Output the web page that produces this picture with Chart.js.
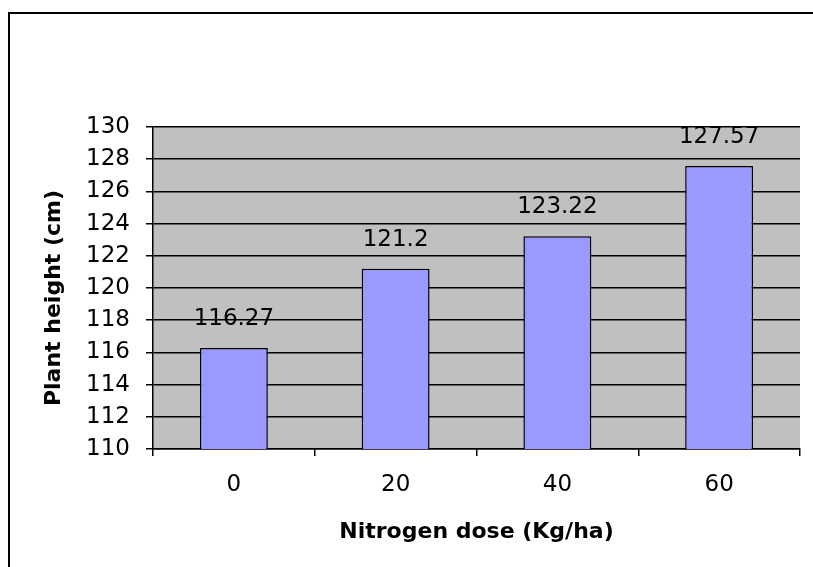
<!DOCTYPE html>
<html>
<head>
<meta charset="utf-8">
<script src="https://cdn.jsdelivr.net/npm/chart.js@4/dist/chart.umd.min.js"></script>
<style>
html,body{margin:0;padding:0;background:#fff;}
#wrap{position:relative;width:813px;height:567px;}
</style>
</head>
<body>
<div id="wrap"><canvas id="c" width="813" height="567"></canvas></div>
<script>
const categories = ['0', '20', '40', '60'];
const plantHeight = [116.27, 121.2, 123.22, 127.57];
const yMin = 110;
const yMax = 130;
const yStep = 2;
const xTitle = 'Nitrogen dose (Kg/ha)';
const yTitle = 'Plant height (cm)';

const FONT = '"DejaVu Sans", sans-serif';

const framePlugin = {
  id: 'frame',
  beforeDraw(chart) {
    const ctx = chart.ctx;
    ctx.save();
    ctx.fillStyle = '#fff';
    ctx.fillRect(0, 0, chart.width, chart.height);
    const a = chart.chartArea;
    ctx.fillStyle = '#C0C0C0';
    ctx.fillRect(a.left, a.top, a.right - a.left, a.bottom - a.top);
    ctx.strokeStyle = '#000';
    ctx.lineWidth = 2;
    ctx.beginPath();
    ctx.moveTo(9, chart.height + 5);
    ctx.lineTo(9, 13);
    ctx.lineTo(chart.width + 5, 13);
    ctx.stroke();
    ctx.restore();
  },
  afterDraw(chart) {
    const ctx = chart.ctx;
    const a = chart.chartArea;
    ctx.save();
    ctx.fillStyle = '#000';
    ctx.font = 'bold 22px ' + FONT;
    ctx.textAlign = 'center';
    ctx.textBaseline = 'middle';
    ctx.fillText(xTitle, (a.left + a.right) / 2, 532);
    ctx.translate(54, 298);
    ctx.rotate(-Math.PI / 2);
    ctx.fillText(yTitle, 0, 0);
    ctx.restore();
  },
  afterDatasetsDraw(chart) {
    const ctx = chart.ctx;
    const meta = chart.getDatasetMeta(0);
    ctx.save();
    ctx.fillStyle = '#000';
    ctx.font = '23px ' + FONT;
    ctx.textAlign = 'center';
    ctx.textBaseline = 'middle';
    meta.data.forEach((bar, i) => {
      ctx.fillText(String(plantHeight[i]), bar.x, bar.y - 29);
    });
    ctx.restore();
  }
};

new Chart(document.getElementById('c'), {
  type: 'bar',
  data: {
    labels: categories,
    datasets: [{
      data: plantHeight,
      backgroundColor: '#9999FF',
      borderColor: '#000',
      borderWidth: 1.5,
      barPercentage: 0.42,
      categoryPercentage: 1.0
    }]
  },
  options: {
    responsive: false,
    animation: false,
    devicePixelRatio: 1,
    layout: { padding: { left: 0, top: 127, right: 13, bottom: 0 } },
    plugins: { legend: { display: false }, tooltip: { enabled: false }, title: { display: false } },
    scales: {
      x: {
        grid: { display: true, drawOnChartArea: false, drawTicks: true, tickLength: 7, color: '#000', lineWidth: 1.5, offset: true },
        border: { display: true, color: '#000', width: 1.5 },
        ticks: { color: '#000', font: { family: FONT, size: 23 }, padding: 15, maxRotation: 0 },
        afterFit(scale) { scale.height = 118; }
      },
      y: {
        min: yMin,
        max: yMax,
        ticks: { stepSize: yStep, color: '#000', font: { family: FONT, size: 23 }, padding: 16 },
        grid: { color: '#000', lineWidth: 1.5, drawTicks: true, tickLength: 7 },
        border: { display: true, color: '#000', width: 1.5 },
        afterFit(scale) { scale.width = 153; }
      }
    }
  },
  plugins: [framePlugin]
});
</script>
</body>
</html>
